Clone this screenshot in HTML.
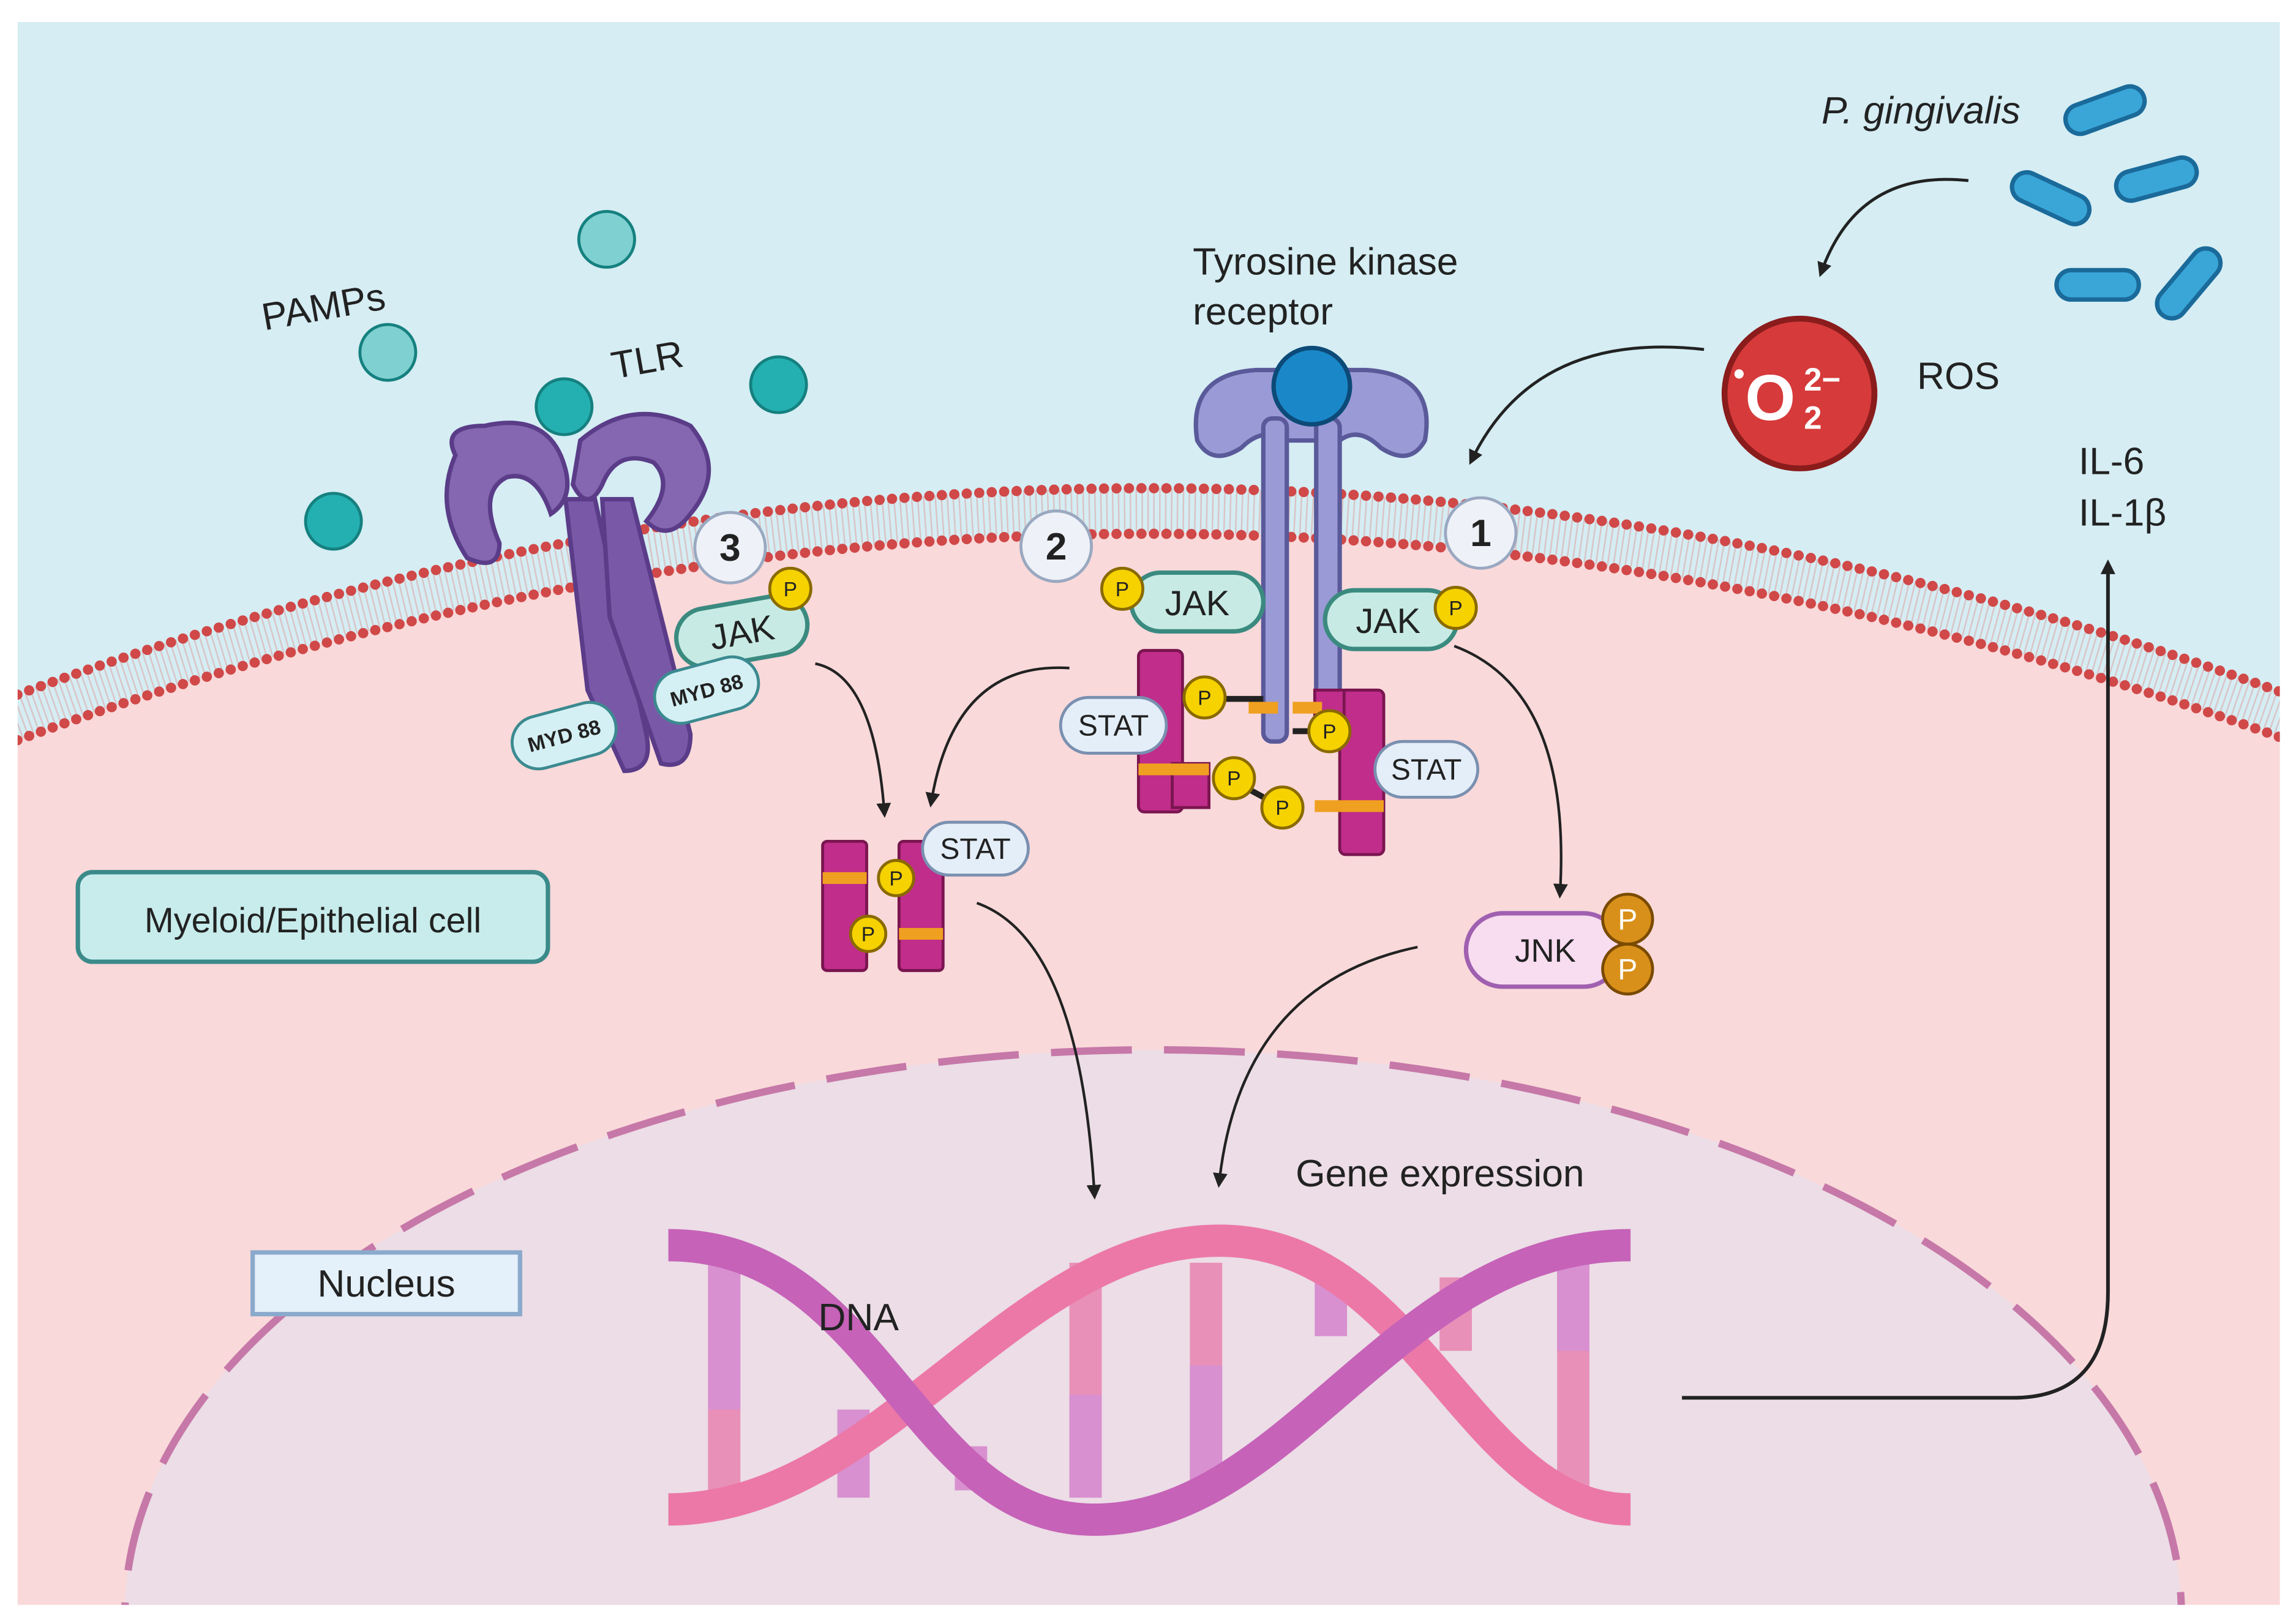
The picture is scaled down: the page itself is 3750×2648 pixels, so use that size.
<!DOCTYPE html>
<html><head><meta charset="utf-8"><style>
html,body{margin:0;padding:0;background:#fff;width:3750px;height:2648px;overflow:hidden;}
svg{display:block;position:absolute;left:0;top:0;}
text{font-family:"Liberation Sans",sans-serif;}
</style></head><body>
<svg width="3750" height="2648" viewBox="0 0 1563 1104" preserveAspectRatio="none" xmlns="http://www.w3.org/2000/svg">
<defs>
<marker id="ah" markerWidth="10" markerHeight="10" refX="6" refY="5" orient="auto" markerUnits="userSpaceOnUse">
<path d="M0,0 L10,5 L0,10 Z" fill="#222"/></marker>
<clipPath id="bg"><rect x="12" y="15" width="1540" height="1078"/></clipPath>
</defs>
<rect width="1563" height="1104" fill="#fff"/>
<g clip-path="url(#bg)">
<rect x="12" y="15" width="1540" height="1078" fill="#d5edf3"/>
<path d="M-20,515 Q780,210 1590,515 L1590,1100 L-20,1100 Z" fill="#f9d9da"/>
<path d="M-20,500 Q780,195 1590,500" fill="none" stroke="#d9c3c6" stroke-width="30" stroke-dasharray="1 3"/>
<path d="M-20,485 Q780,180 1590,485" fill="none" stroke="#d04848" stroke-width="7" stroke-linecap="round" stroke-dasharray="0 8.5"/>
<path d="M-20,516 Q780,211 1590,516" fill="none" stroke="#d04848" stroke-width="7" stroke-linecap="round" stroke-dasharray="0 8.5"/>
<ellipse cx="785" cy="1100" rx="700" ry="385" fill="#ecdde6"/>
<ellipse cx="785" cy="1100" rx="700" ry="385" fill="none" stroke="#c678a8" stroke-width="5" stroke-dasharray="55 22"/>
</g>
<g fill="#3aa6d8" stroke="#1a6a9a" stroke-width="3">
<rect x="1405" y="65" width="56" height="20" rx="10" transform="rotate(-20 1433 75)"/>
<rect x="1368" y="125" width="56" height="20" rx="10" transform="rotate(25 1396 135)"/>
<rect x="1440" y="112" width="56" height="20" rx="10" transform="rotate(-15 1468 122)"/>
<rect x="1400" y="184" width="56" height="20" rx="10"/>
<rect x="1462" y="183" width="56" height="20" rx="10" transform="rotate(-50 1490 193)"/>
</g>
<text x="1240" y="84" font-size="26" font-style="italic" fill="#222">P. gingivalis</text>
<circle cx="1225" cy="268" r="51" fill="#d63a3a" stroke="#8a1c1c" stroke-width="4"/>
<text x="1188" y="286" font-size="44" font-weight="bold" fill="#fff">O</text>
<text x="1180" y="262" font-size="22" font-weight="bold" fill="#fff">•</text>
<text x="1228" y="266" font-size="22" font-weight="bold" fill="#fff">2−</text>
<text x="1228" y="292" font-size="22" font-weight="bold" fill="#fff">2</text>
<text x="1305" y="265" font-size="26" fill="#222">ROS</text>
<path d="M1340,123 Q1265,115 1240,185" fill="none" stroke="#222" stroke-width="2" marker-end="url(#ah)"/>
<path d="M1160,238 Q1045,225 1002,313" fill="none" stroke="#222" stroke-width="2" marker-end="url(#ah)"/>
<text x="812" y="187" font-size="26" fill="#222">Tyrosine kinase</text>
<text x="812" y="221" font-size="26" fill="#222">receptor</text>
<path d="M815,300 Q808,255 855,252 L930,252 Q978,255 970,300 Q960,318 940,305 Q925,290 912,300 L875,300 Q860,290 845,305 Q825,318 815,300 Z" fill="#9a9ad6" stroke="#5a5a9a" stroke-width="3"/>
<rect x="860" y="285" width="16" height="220" rx="6" fill="#9a9ad6" stroke="#5a5a9a" stroke-width="3"/>
<rect x="896" y="285" width="16" height="220" rx="6" fill="#9a9ad6" stroke="#5a5a9a" stroke-width="3"/>
<circle cx="893" cy="263" r="26" fill="#1a88c8" stroke="#0c4a78" stroke-width="3"/>
<text x="180" y="225" font-size="26" fill="#222" transform="rotate(-10 180 225)">PAMPs</text>
<text x="418" y="258" font-size="26" fill="#222" transform="rotate(-10 418 258)">TLR</text>
<path d="M310,310 Q300,290 330,290 Q375,280 385,320 Q390,340 375,350 Q365,320 345,325 Q325,335 340,370 Q340,390 318,380 Q295,345 310,310 Z" fill="#8566b0" stroke="#5a3c88" stroke-width="3"/>
<path d="M395,300 Q430,270 470,290 Q495,320 470,350 Q455,370 440,355 Q460,330 445,315 Q420,305 410,330 Q400,350 390,330 Z" fill="#8566b0" stroke="#5a3c88" stroke-width="3"/>
<path d="M385,340 L405,340 L440,500 Q445,525 425,525 L400,470 Z" fill="#7a58a8" stroke="#5a3c88" stroke-width="3"/>
<path d="M410,340 L430,340 L470,500 Q470,525 450,520 L415,420 Z" fill="#7a58a8" stroke="#5a3c88" stroke-width="3"/>
<g fill="#24b0b0" stroke="#15807f" stroke-width="2">
<circle cx="413" cy="163" r="19" fill="#7fd0d0"/><circle cx="264" cy="240" r="19" fill="#7fd0d0"/>
<circle cx="384" cy="277" r="19"/><circle cx="530" cy="262" r="19"/><circle cx="227" cy="355" r="19"/></g>
<g fill="#eef2f8" stroke="#9aa8c0" stroke-width="2">
<circle cx="497" cy="373" r="24"/><circle cx="719" cy="372" r="24"/><circle cx="1008" cy="363" r="24"/></g>
<g font-size="26" font-weight="bold" fill="#222" text-anchor="middle">
<text x="497" y="382">3</text><text x="719" y="381">2</text><text x="1008" y="372">1</text></g>
<g fill="#c7ebe4" stroke="#3b8a80" stroke-width="3">
<rect x="460" y="410" width="90" height="40" rx="20" transform="rotate(-10 505 430)"/>
<rect x="770" y="390" width="90" height="40" rx="20"/>
<rect x="902" y="402" width="90" height="40" rx="20"/>
</g>
<g font-size="24" fill="#222" text-anchor="middle">
<text x="505" y="439" transform="rotate(-10 505 430)">JAK</text><text x="815" y="419">JAK</text><text x="945" y="431">JAK</text></g>
<g fill="#d4f0f4" stroke="#3b8a90" stroke-width="2">
<rect x="348" y="483" width="72" height="36" rx="18" transform="rotate(-15 384 501)"/>
<rect x="445" y="452" width="72" height="36" rx="18" transform="rotate(-15 481 470)"/></g>
<g font-size="14" font-weight="bold" fill="#222" text-anchor="middle">
<text x="384" y="506" transform="rotate(-15 384 501)">MYD 88</text><text x="481" y="475" transform="rotate(-15 481 470)">MYD 88</text></g>
<g fill="#c02d8a" stroke="#7a1550" stroke-width="2">
<rect x="775" y="443" width="30" height="110" rx="4"/><rect x="798" y="520" width="25" height="30"/>
<rect x="912" y="470" width="30" height="112" rx="4"/><rect x="895" y="470" width="20" height="30"/>
</g>
<g fill="#f0a020"><rect x="775" y="520" width="48" height="8"/><rect x="895" y="545" width="47" height="8"/><rect x="850" y="478" width="20" height="8"/><rect x="880" y="478" width="20" height="8"/></g>
<path d="M820,476 L860,476 M905,498 L880,498 M840,532 L873,550" stroke="#222" stroke-width="4"/>
<g fill="#c02d8a" stroke="#7a1550" stroke-width="2">
<rect x="560" y="573" width="30" height="88" rx="3"/><rect x="612" y="573" width="30" height="88" rx="3"/></g>
<g fill="#f0a020"><rect x="560" y="594" width="30" height="8"/><rect x="612" y="632" width="30" height="8"/></g>
<g fill="#e4eef8" stroke="#7a90b0" stroke-width="2">
<rect x="722" y="475" width="72" height="38" rx="19"/><rect x="936" y="505" width="70" height="38" rx="19"/>
<rect x="628" y="560" width="72" height="36" rx="18"/></g>
<g font-size="20" fill="#222" text-anchor="middle">
<text x="758" y="501">STAT</text><text x="971" y="531">STAT</text><text x="664" y="585">STAT</text></g>
<g fill="#f5d200" stroke="#8a6a00" stroke-width="2">
<circle cx="538" cy="401" r="14"/><circle cx="764" cy="401" r="14"/><circle cx="991" cy="414" r="14"/>
<circle cx="820" cy="475" r="14"/><circle cx="905" cy="498" r="14"/><circle cx="840" cy="530" r="14"/><circle cx="873" cy="550" r="14"/>
<circle cx="610" cy="598" r="12"/><circle cx="591" cy="636" r="12"/></g>
<g font-size="14" fill="#222" text-anchor="middle">
<text x="538" y="406">P</text><text x="764" y="406">P</text><text x="991" y="419">P</text><text x="820" y="480">P</text><text x="905" y="503">P</text><text x="840" y="535">P</text><text x="873" y="555">P</text><text x="610" y="603">P</text><text x="591" y="641">P</text></g>
<rect x="998" y="622" width="105" height="50" rx="25" fill="#f8dcf0" stroke="#a060b0" stroke-width="3"/>
<text x="1052" y="655" font-size="22" fill="#222" text-anchor="middle">JNK</text>
<circle cx="1108" cy="626" r="17" fill="#d8901a" stroke="#7a4a00" stroke-width="2"/>
<circle cx="1108" cy="660" r="17" fill="#d8901a" stroke="#7a4a00" stroke-width="2"/>
<text x="1108" y="633" font-size="20" fill="#fff" text-anchor="middle">P</text>
<text x="1108" y="667" font-size="20" fill="#fff" text-anchor="middle">P</text>
<g fill="none" stroke="#222" stroke-width="1.8" marker-end="url(#ah)">
<path d="M555,452 Q595,460 602,553"/>
<path d="M728,455 Q650,450 634,546"/>
<path d="M990,440 Q1070,470 1062,608"/>
<path d="M665,615 Q735,640 745,813"/>
<path d="M965,645 Q845,670 830,805"/>
</g>
<rect x="53" y="594" width="320" height="61" rx="10" fill="#c8ecec" stroke="#3b8a8a" stroke-width="3"/>
<text x="213" y="635" font-size="24" fill="#222" text-anchor="middle">Myeloid/Epithelial cell</text>
<rect x="172" y="853" width="182" height="42" fill="#e4f0fa" stroke="#8aaacc" stroke-width="3"/>
<text x="263" y="883" font-size="26" fill="#222" text-anchor="middle">Nucleus</text>
<text x="882" y="808" font-size="26" fill="#222">Gene expression</text>
<g>
<rect x="482" y="860" width="22" height="160" fill="#e890b8"/>
<rect x="482" y="860" width="22" height="100" fill="#d890d0"/>
<rect x="728" y="860" width="22" height="160" fill="#e890b8"/><rect x="728" y="950" width="22" height="70" fill="#d890d0"/>
<rect x="810" y="860" width="22" height="160" fill="#e890b8"/><rect x="810" y="930" width="22" height="90" fill="#d890d0"/>
<rect x="1060" y="860" width="22" height="160" fill="#e890b8"/><rect x="1060" y="860" width="22" height="60" fill="#d890d0"/>
<rect x="570" y="960" width="22" height="60" fill="#d890d0"/><rect x="650" y="985" width="22" height="30" fill="#d890d0"/>
<rect x="895" y="870" width="22" height="40" fill="#d890d0"/><rect x="980" y="870" width="22" height="50" fill="#e890b8"/>
</g>
<path d="M455,1028 C600,1028 690,845 830,845 C965,845 1000,1028 1110,1028" fill="none" stroke="#ec78a8" stroke-width="22"/>
<path d="M455,848 C600,848 620,1035 745,1035 C880,1035 950,848 1110,848" fill="none" stroke="#c662b8" stroke-width="22"/>
<text x="557" y="906" font-size="26" fill="#222">DNA</text>
<text x="1415" y="323" font-size="26" fill="#222">IL-6</text>
<text x="1415" y="358" font-size="26" fill="#222">IL-1β</text>
<path d="M1145,952 L1370,952 Q1435,952 1435,880 L1435,385" fill="none" stroke="#222" stroke-width="2.5" marker-end="url(#ah)"/>
</svg>
</body></html>
